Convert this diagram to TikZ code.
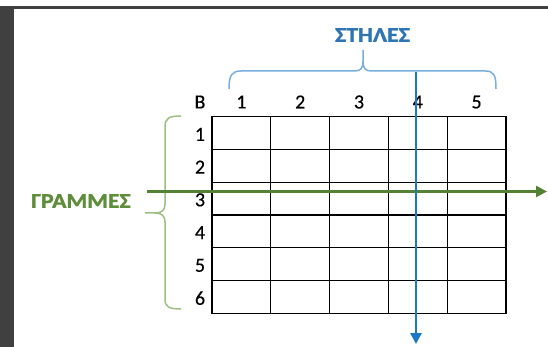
\documentclass[tikz,border=0pt]{standalone}
\usepackage{fontspec}
\setmainfont{Carlito}[FakeBold=0.4]
\newfontface\titlefont{Carlito Bold}[FakeBold=1.2]
\usetikzlibrary{arrows.meta}
\definecolor{frame}{HTML}{404040}
\definecolor{bluetxt}{HTML}{2E75B6}
\definecolor{bluebr}{HTML}{7AAEDD}
\definecolor{bluearr}{HTML}{1A78C8}
\definecolor{greentxt}{HTML}{5E8E3A}
\definecolor{greenbr}{HTML}{9DC082}
\definecolor{greenarr}{HTML}{548235}
\tikzset{
  cell/.style={draw=black, line width=1.3pt, minimum width=58.8pt, minimum height=32.7pt, inner sep=0pt, outer sep=0pt},
  lab/.style={font=\fontsize{20}{22}\selectfont, inner sep=0pt},
  title/.style={font=\titlefont\fontsize{21}{23}\selectfont, inner sep=0pt, xscale=1.13},
  brace/.style={line width=1.5pt, line join=round},
  arr/.style={line width=2.6pt, -{Triangle[length=11pt,width=11pt]}},
}
\begin{document}
\begin{tikzpicture}[x=1pt,y=-1pt]
\useasboundingbox (0,0) rectangle (548,347);
\fill[white] (0,0) rectangle (548,347);
\fill[frame] (0,6) rectangle (14,347);
\fill[frame] (14,6) rectangle (548,9);
% grid cells
\foreach \r in {1,...,6}{
  \foreach \c in {1,...,5}{
    \node[cell] (c\r\c) at ({212+58.8*(\c-0.5)},{116.7+32.75*(\r-0.5)}) {};
  }
}
% headers
\node[lab] (hB) at (200,102) {B};
\foreach \c in {1,...,5}{
  \node[lab] (h\c) at ({212+58.8*(\c-0.5)},102) {\c};
}
\foreach \r in {1,...,6}{
  \node[lab] (r\r) at (200,{118+32.75*(\r-0.5)}) {\r};
}
% titles
\node[title, text=bluetxt] (stiles) at (372.5,35) {ΣΤΗΛΕΣ};
\node[title, text=greentxt] (grammes) at (81,201) {ΓΡΑΜΜΕΣ};
% top brace
\draw[brace, bluebr] (229,89) .. controls (229,75) and (232,71) .. (241,71) -- (355,71)
  .. controls (361,71) and (363,68) .. (363,61) -- (363,50);
\draw[brace, bluebr] (363,61) .. controls (363,68) and (365,71) .. (371,71) -- (485,71)
  .. controls (494,71) and (496,75) .. (496,89);
% left brace
\draw[brace, greenbr] (181,116) .. controls (169,116) and (165,118) .. (165,127) -- (165,204)
  .. controls (165,210) and (162,213) .. (155,213) -- (145,213);
\draw[brace, greenbr] (155,213) .. controls (162,213) and (165,216) .. (165,222) -- (165,299)
  .. controls (165,307) and (169,309) .. (181,309);
% arrows
\coordinate (gs) at (147,191.5);
\coordinate (ge) at (547,191.5);
\draw[arr, greenarr] (gs) -- (ge);
\coordinate (bs) at (416,72);
\coordinate (be) at (416,344);
\draw[arr, bluearr] (bs) -- (be);
\end{tikzpicture}
\end{document}
